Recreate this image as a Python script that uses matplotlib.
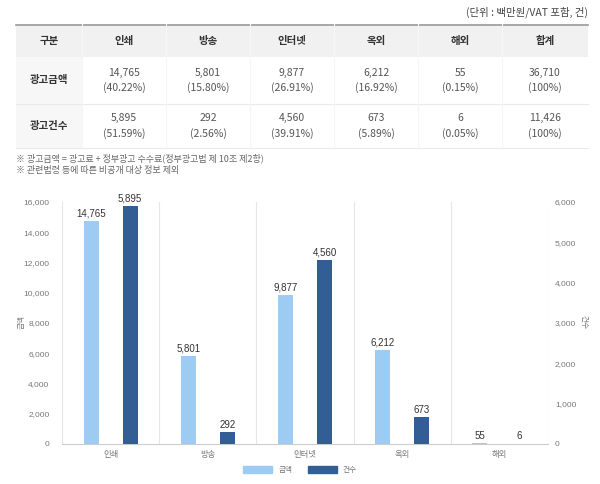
import numpy as np
import matplotlib
matplotlib.use('Agg')
import matplotlib.pyplot as plt
from matplotlib.patches import Rectangle, Patch

plt.rcParams['font.family'] = ['Noto Sans CJK KR', 'DejaVu Sans']
num_font = ['Liberation Sans', 'Noto Sans CJK KR']

# 데이터
categories = ['인쇄', '방송', '인터넷', '옥외', '해외']
amount = [14765, 5801, 9877, 6212, 55]
count = [5895, 292, 4560, 673, 6]
amount_pct = ['40.22%', '15.80%', '26.91%', '16.92%', '0.15%']
count_pct = ['51.59%', '2.56%', '39.91%', '5.89%', '0.05%']
amount_total = 36710
count_total = 11426
row_names = ['광고금액', '광고건수']
notes = ['※ 광고금액 = 광고료 + 정부광고 수수료(정부광고법 제 10조 제2항)',
         '※ 관련법령 등에 따른 비공개 대상 정보 제외']

light = '#9ecbf2'
dark = '#335e95'

fig = plt.figure(figsize=(6, 4.84), dpi=100)

# 표 (픽셀 좌표)
bg = fig.add_axes([0, 0, 1, 1])
bg.set_xlim(0, 600)
bg.set_ylim(484, 0)
bg.axis('off')

bg.text(588, 12, '(단위 : 백만원/VAT 포함, 건)', ha='right', va='center',
        fontsize=7.5, color='#444')

col_x = [16, 82, 166, 250, 334, 418, 502, 588]
row_y = [24, 57, 104, 148]

bg.add_patch(Rectangle((16, 24), 572, 33, color='#f1f1f1', lw=0))
bg.add_patch(Rectangle((16, 57), 66, 91, color='#f7f7f7', lw=0))
bg.plot([16, 588], [24.5, 24.5], color='#9a9a9a', lw=1.2)
for y in row_y[2:]:
    bg.plot([16, 588], [y, y], color='#eaeaea', lw=0.8)
for x in col_x[1:-1]:
    bg.plot([x, x], [24, 148], color='#f6f6f6', lw=0.8)

header = ['구분'] + categories + ['합계']
for i, h in enumerate(header):
    cx = (col_x[i] + col_x[i + 1]) / 2
    bg.text(cx, 41, h, ha='center', va='center', fontsize=7.5,
            fontweight='bold', color='#333')

fmt = lambda v: f'{v:,}'
rows = [
    [fmt(v) + '\n(' + p + ')' for v, p in zip(amount, amount_pct)] + [fmt(amount_total) + '\n(100%)'],
    [fmt(v) + '\n(' + p + ')' for v, p in zip(count, count_pct)] + [fmt(count_total) + '\n(100%)'],
]
for r in range(2):
    cy = (row_y[r + 1] + row_y[r + 2]) / 2
    bg.text((col_x[0] + col_x[1]) / 2, cy, row_names[r], ha='center', va='center',
            fontsize=7.5, fontweight='bold', color='#333')
    for i, cell in enumerate(rows[r]):
        cx = (col_x[i + 1] + col_x[i + 2]) / 2
        bg.text(cx, cy, cell, ha='center', va='center', fontsize=7.5,
                color='#555', linespacing=1.5)

for k, n in enumerate(notes):
    bg.text(16, 158 + 13 * k, n, ha='left', va='center', fontsize=6.5, color='#666')

# 차트
ax = fig.add_axes([62 / 600, 40 / 484, 486 / 600, 242 / 484])
ax2 = ax.twinx()
x = np.arange(len(categories))
w = 0.155
b1 = ax.bar(x - 0.2, amount, w, color=light)
b2 = ax2.bar(x + 0.2, count, w, color=dark)

ax.set_xlim(-0.5, len(categories) - 0.5)
ax.set_ylim(0, 16000)
ax2.set_ylim(0, 6000)
ax.set_yticks(np.arange(0, 16001, 2000))
ax2.set_yticks(np.arange(0, 6001, 1000))
ax.set_yticklabels([f'{v:,}' for v in range(0, 16001, 2000)])
ax2.set_yticklabels([f'{v:,}' for v in range(0, 6001, 1000)])
ax.set_xticks(x)
ax.set_xticklabels(categories)

for a in (ax, ax2):
    for s in a.spines.values():
        s.set_visible(False)
    a.tick_params(length=0, labelsize=6, labelcolor='#777')
    for lab in a.get_xticklabels() + a.get_yticklabels():
        lab.set_family(num_font)
ax.spines['bottom'].set_visible(True)
ax.spines['bottom'].set_color('#cccccc')
ax.spines['bottom'].set_linewidth(0.8)
ax.tick_params(axis='y', pad=9)
ax2.tick_params(axis='y', pad=5)
ax.tick_params(axis='x', pad=5)

for b in np.arange(-0.5, len(categories), 1):
    ax.axvline(b, color='#e6e6e6', lw=0.8, zorder=0)

for bar, v in zip(b1, amount):
    ax.text(bar.get_x() + bar.get_width() / 2, bar.get_height() + 150, f'{v:,}',
            ha='center', va='bottom', fontsize=7, color='#333', family=num_font)
for bar, v in zip(b2, count):
    ax2.text(bar.get_x() + bar.get_width() / 2, bar.get_height() + 56, f'{v:,}',
             ha='center', va='bottom', fontsize=7, color='#333', family=num_font)

fig.text(22 / 600, 1 - 322 / 484, '금액', rotation=90, ha='center', va='center',
         fontsize=5.5, color='#777')
fig.text(584 / 600, 1 - 322 / 484, '건수', rotation=270, ha='center', va='center',
         fontsize=5.5, color='#777')

fig.legend(handles=[Patch(color=light, label='금액'), Patch(color=dark, label='건수')],
           loc='center', bbox_to_anchor=(0.5, 1 - 470 / 484), ncol=2, frameon=False,
           fontsize=5.5, handlelength=3.8, handleheight=0.9, columnspacing=2,
           labelcolor='#777')

fig.savefig('out.png', dpi=100)
